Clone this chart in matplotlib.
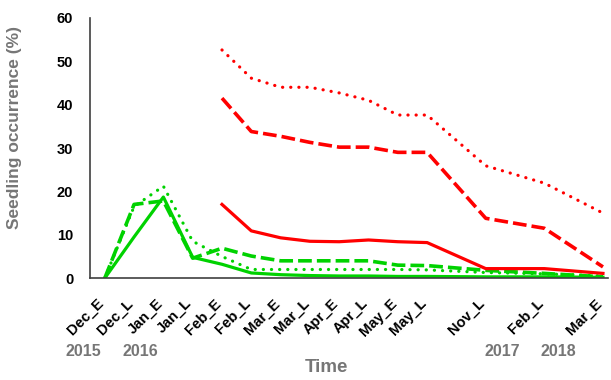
import numpy as np
import matplotlib
matplotlib.use("Agg")
import matplotlib.pyplot as plt
from matplotlib.transforms import ScaledTranslation

plt.rcParams['font.family'] = ['Liberation Sans', 'DejaVu Sans']
plt.rcParams['font.weight'] = 'bold'
plt.rcParams['axes.labelweight'] = 'bold'

# sampling dates and where they sit on the time axis (gaps between seasons)
time_labels = ['Dec_E', 'Dec_L', 'Jan_E', 'Jan_L', 'Feb_E', 'Feb_L', 'Mar_E',
               'Mar_L', 'Apr_E', 'Apr_L', 'May_E', 'May_L', 'Nov_L', 'Feb_L',
               'Mar_E']
time_pos = [0, 1, 2, 3, 4, 5, 6, 7, 8, 9, 10, 11, 13, 15, 17]
years = ['2015', '2016', '2017', '2018']
year_at = [0, 2, 13, 14]  # index into time_pos
year_dx = [-21, -23, -42, -45]  # pixel nudge so the year sits under its label

# green series, 2015-2016 season
green_solid = [0, 9.5, 18.7, 4.8, 3.2, 1.2, 0.8, 0.6, 0.5, 0.5, 0.4, 0.4, 0.3, 0.3, 0.2]
green_dash = [0, 17.0, 17.8, 4.6, 6.9, 5.1, 4.0, 4.0, 4.0, 4.0, 3.0, 2.9, 1.8, 1.1, 0.3]
green_dot = [0, 16.5, 21.2, 8.5, 5.0, 2.0, 2.0, 2.0, 2.0, 2.0, 2.0, 1.9, 1.3, 1.0, 0.5]

# red series, from Feb_E onwards
red_pos = time_pos[4:]
red_solid = [17.0, 10.9, 9.3, 8.5, 8.4, 8.8, 8.4, 8.2, 2.2, 2.2, 1.1]
red_dash = [41.5, 33.8, 32.7, 31.3, 30.2, 30.2, 29.0, 29.0, 13.8, 11.5, 2.6]
red_dot = [52.6, 46.1, 44.0, 44.0, 42.7, 41.0, 37.6, 37.6, 25.9, 21.9, 15.0]

GREEN = '#00d200'
RED = '#ff0000'
GREY = '#767676'

fig = plt.figure(figsize=(6.11, 3.80), dpi=100)
ax = fig.add_axes([0.147, 0.268, 0.848, 0.685])

lw = 2.3
dash = (0, (3.8, 1.4))
dot = (0, (0.05, 2.5))

ax.plot(time_pos, green_solid, color=GREEN, lw=lw)
ax.plot(time_pos, green_dash, color=GREEN, lw=lw + 0.3, linestyle=dash)
ax.plot(time_pos, green_dot, color=GREEN, lw=lw, linestyle=dot,
        dash_capstyle='round')

ax.plot(red_pos, red_solid, color=RED, lw=lw)
ax.plot(red_pos, red_dash, color=RED, lw=lw + 0.3, linestyle=dash)
ax.plot(red_pos, red_dot, color=RED, lw=lw, linestyle=dot,
        dash_capstyle='round')

ax.set_xlim(-0.51, 17.17)
ax.set_ylim(0, 60)
ax.set_yticks(range(0, 61, 10))

for side in ['top', 'right']:
    ax.spines[side].set_visible(False)
for side in ['left', 'bottom']:
    ax.spines[side].set_color('#404040')
    ax.spines[side].set_linewidth(1.2)

ax.tick_params(axis='y', length=0, pad=12, labelsize=10.5)
ax.tick_params(axis='x', length=0, pad=13, labelsize=10.5)
ax.set_xticks(time_pos)
ax.set_xticklabels(time_labels, rotation=45, ha='right', va='top',
                   rotation_mode='anchor')
shift = ScaledTranslation(-8 / 100, 0, fig.dpi_scale_trans)
for lab in ax.get_xticklabels():
    lab.set_transform(lab.get_transform() + shift)

for yr, i, dx in zip(years, year_at, year_dx):
    ax.annotate(yr, xy=(time_pos[i], 0), xycoords=ax.get_xaxis_transform(),
                xytext=(dx, -73), textcoords='offset pixels',
                ha='center', va='center', fontsize=11.5, color=GREY)

ax.set_xlabel('Time', fontsize=13.5, color=GREY, labelpad=0)
ax.xaxis.set_label_coords(0.456, -0.31)
ax.set_ylabel('Seedling occurrence (%)', fontsize=12.5, color=GREY)
ax.yaxis.set_label_coords(-0.13, 0.58)

fig.savefig('out.png', dpi=100)
